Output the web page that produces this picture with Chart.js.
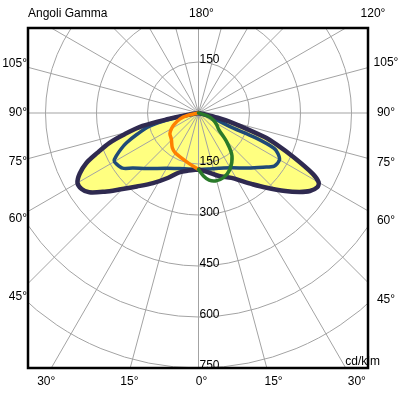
<!DOCTYPE html>
<html>
<head>
<meta charset="utf-8">
<script src="https://cdn.jsdelivr.net/npm/chart.js@4.4.1/dist/chart.umd.min.js"></script>
<style>
    html, body { margin: 0; padding: 0; background: #fff; }
    #wrap { width: 398px; height: 398px; }
</style>
</head>
<body>
<div id="wrap"><canvas id="gammaChart" width="398" height="398"></canvas></div>
<script>
// =============================================
// PHOTOMETRIC DATA (gamma in degrees, cd/klm)
// =============================================

// C0 / C180 plane (outer curve, filled)
const outerRightGamma = [0, 10, 18, 27, 33, 37, 42, 48, 52, 55, 58, 60, 62, 65, 68, 70, 74, 76, 78, 79];
const outerRightValue = [166, 178, 195, 214, 240, 262, 295, 343, 377, 400, 412, 408, 380, 310, 247, 205, 102, 58, 20, 0];
const outerLeftGamma = [0, 10, 18, 25, 33, 40, 46, 50, 54, 57, 60, 63, 66, 68.5, 71.5, 74, 77, 78.7, 80, 81];
const outerLeftValue = [166, 172, 184, 210, 246, 282, 324, 360, 397, 410, 411, 392, 361, 320, 276, 226, 169, 90, 30, 0];

// second plane (blue)
const blueRightGamma = [0, 10, 20, 31, 42, 50, 55, 60, 63, 65, 66.5, 66.5, 68, 71, 75];
const blueRightValue = [166, 167, 173, 188, 218, 248, 272, 275, 262, 245, 182, 110, 70, 35, 0];
const blueLeftGamma = [0, 10, 19, 30, 43, 50, 54, 58, 60.5, 62.5, 65, 67.5, 71, 75, 78.3, 80, 81];
const blueLeftValue = [166, 167, 173, 188, 223, 252, 276, 284, 285, 272, 252, 229, 190, 149, 87, 40, 0];

// C90 / C270 half planes
const orangeGamma = [0, 10, 20, 30, 37, 46, 54, 60, 65, 72, 77, 81];
const orangeValue = [166, 152, 142, 136, 128, 111, 104, 92, 78, 58, 35, 0];
const greenGamma = [0, 4.5, 9, 14, 21, 29, 38, 44, 51, 57, 65, 72, 80];
const greenValue = [166, 186, 200, 206, 204, 190, 160, 121, 76, 64, 48, 28, 0];

// grid and labels
const ringValues = [150, 300, 450, 600, 750, 900];
const spokeAngles = [0, 15, 30, 45, 60, 75, 90, 105, 120, 135, 150, 165, 180, 195, 210, 225, 240, 255, 270, 285, 300, 315, 330, 345];
const ringLabelsDown = [150, 300, 450, 600, 750];
const ringLabelsUp = [150];
const sideAngles = [45, 60, 75, 90, 105];
const bottomAngles = [-30, -15, 0, 15, 30];
const topAngles = [180, 120];

const FONT = '12px "Liberation Sans", Arial, sans-serif';

// polar (gamma, I) -> chart x/y, side = 1 right, -1 left
function toXY(gammas, values, side) {
    return gammas.map((g, i) => {
        const rad = g * Math.PI / 180;
        return { x: side * values[i] * Math.sin(rad), y: -values[i] * Math.cos(rad) };
    });
}

const outerRight = toXY(outerRightGamma, outerRightValue, 1);
const outerLeft = toXY(outerLeftGamma, outerLeftValue, -1);
const outerShape = outerRight.slice().reverse().concat(outerLeft.slice(1));
const blueRight = toXY(blueRightGamma, blueRightValue, 1);
const blueLeft = toXY(blueLeftGamma, blueLeftValue, -1);
const orangeCurve = toXY(orangeGamma, orangeValue, -1);
const greenCurve = toXY(greenGamma, greenValue, 1);

// Grid goes over the yellow fill but under the curves
const polarGrid = {
    id: 'polarGrid',
    afterDatasetDraw(chart, args) {
        if (args.index !== 0) return;
        const { ctx, chartArea: a, scales: { x, y } } = chart;
        const cx = x.getPixelForValue(0), cy = y.getPixelForValue(0);
        ctx.save();
        ctx.beginPath();
        ctx.rect(a.left, a.top, a.right - a.left, a.bottom - a.top);
        ctx.clip();
        ctx.strokeStyle = '#a3a3a3';
        ctx.lineWidth = 1;
        ringValues.forEach(r => {
            ctx.beginPath();
            ctx.arc(cx, cy, x.getPixelForValue(r) - cx, 0, Math.PI * 2);
            ctx.stroke();
        });
        spokeAngles.forEach(g => {
            const rad = g * Math.PI / 180;
            ctx.beginPath();
            ctx.moveTo(cx, cy);
            ctx.lineTo(x.getPixelForValue(1200 * Math.sin(rad)), y.getPixelForValue(-1200 * Math.cos(rad)));
            ctx.stroke();
        });
        ctx.restore();
    },
    afterDraw(chart) {
        const { ctx, chartArea: a, scales: { x, y } } = chart;
        const cx = x.getPixelForValue(0), cy = y.getPixelForValue(0);
        ctx.save();

        // frame
        ctx.strokeStyle = '#000';
        ctx.lineWidth = 2.5;
        ctx.strokeRect(a.left, a.top, a.right - a.left, a.bottom - a.top);

        ctx.fillStyle = '#000';
        ctx.font = FONT;
        ctx.textBaseline = 'alphabetic';
        ctx.textAlign = 'left';

        // intensity labels on the vertical axis
        ringLabelsDown.forEach(v => ctx.fillText(String(v), cx + 1, y.getPixelForValue(-v) + 1));
        ringLabelsUp.forEach(v => ctx.fillText(String(v), cx + 1, y.getPixelForValue(v) + 1));

        // gamma labels on the sides, placed along each ray
        ctx.textBaseline = 'middle';
        sideAngles.forEach(g => {
            const rad = g * Math.PI / 180;
            const dl = cx - (a.left - 13);
            ctx.textAlign = 'right';
            ctx.fillText(g + '°', a.left - 1, cy + dl * Math.cos(rad) / Math.sin(rad));
            const dr = (a.right + 17) - cx;
            ctx.textAlign = 'center';
            ctx.fillText(g + '°', a.right + 18, cy + dr * Math.cos(rad) / Math.sin(rad));
        });

        // bottom labels
        ctx.textAlign = 'center';
        const by = a.bottom + 14;
        bottomAngles.forEach(g => {
            const rad = g * Math.PI / 180;
            ctx.fillText(Math.abs(g) + '°', cx + (by - cy) * Math.tan(rad) + 3, by);
        });

        // top labels
        const ty = a.top - 14;
        topAngles.forEach(g => {
            const rad = (180 - g) * Math.PI / 180;
            ctx.fillText(g + '°', cx + (cy - ty) * Math.tan(rad) + 3, ty);
        });

        ctx.textAlign = 'left';
        ctx.fillText('Angoli Gamma', a.left, ty);

        ctx.textAlign = 'right';
        ctx.textBaseline = 'alphabetic';
        ctx.fillText('cd/klm', a.right + 12, a.bottom - 3);

        ctx.restore();
    }
};

const lineStyle = { pointRadius: 0, tension: 0.3, borderJoinStyle: 'round', borderCapStyle: 'round', fill: false };
const purple = { ...lineStyle, borderWidth: 4.5, borderColor: '#2f2a50', order: 3 };
const blue = { ...lineStyle, borderWidth: 3.5, borderColor: '#1f4a78', order: 4 };

new Chart(document.getElementById('gammaChart'), {
    type: 'line',
    data: {
        datasets: [
            { data: outerShape, pointRadius: 0, tension: 0, borderWidth: 0, borderColor: 'rgba(0,0,0,0)', backgroundColor: '#ffff80', fill: 'shape', order: 10 },
            { data: blueRight, ...blue },
            { data: blueLeft, ...blue },
            { data: outerRight, ...purple },
            { data: outerLeft, ...purple },
            { data: orangeCurve, ...lineStyle, borderWidth: 3.5, borderColor: '#ff8000', order: 2 },
            { data: greenCurve, ...lineStyle, borderWidth: 3.5, borderColor: '#2a7a2a', order: 1 }
        ]
    },
    options: {
        responsive: false,
        animation: false,
        devicePixelRatio: 1,
        layout: { padding: { left: 28, right: 30, top: 28, bottom: 30 } },
        scales: {
            x: { type: 'linear', display: false, min: -501.5, max: 498.5 },
            y: { type: 'linear', display: false, min: -750, max: 250 }
        },
        plugins: { legend: { display: false }, tooltip: { enabled: false } }
    },
    plugins: [polarGrid]
});
</script>
</body>
</html>
